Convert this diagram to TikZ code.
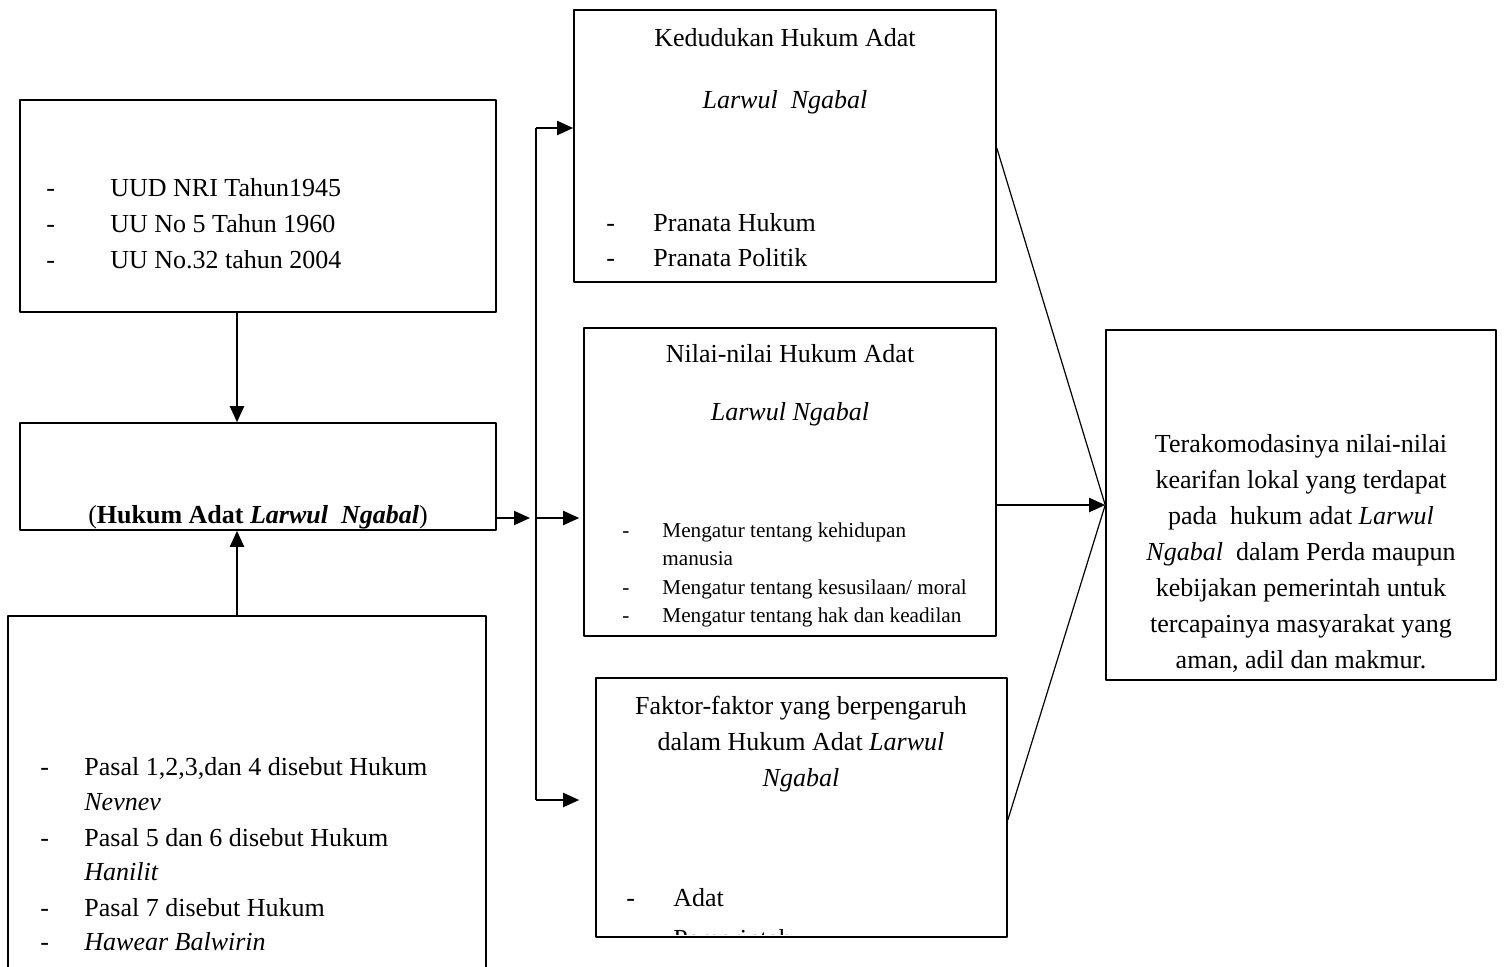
\documentclass[tikz,border=0pt]{standalone}
\usepackage{fontspec}
\setmainfont{Liberation Serif}
\usetikzlibrary{arrows.meta}
\tikzset{
  box/.style={draw, line width=0.8pt, inner sep=0pt},
  arr/.style={line width=1pt, -{Triangle[length=8pt,width=7pt]}},
  link/.style={line width=0.6pt},
  item/.style={anchor=base west, inner sep=0pt},
  mid/.style={anchor=base, inner sep=0pt},
  small/.style={font=\fontsize{10.6}{14}\selectfont},
}
\begin{document}
\begin{tikzpicture}[x=0.5pt, y=-0.5pt, font=\fontsize{13}{18}\selectfont, line join=round]
  \useasboundingbox (0,0) rectangle (1504,966);
  % kotak kiri
  \node[box, minimum width=238pt, minimum height=106pt] (dasar) at (258,206) {};
  \node[box, minimum width=238pt, minimum height=53.5pt] (adat) at (258,476.5) {};
  \node[box, minimum width=239pt, minimum height=180pt] (pasal) at (247,796) {};
  % kotak tengah
  \node[box, minimum width=211pt, minimum height=136pt] (kedudukan) at (785,146) {};
  \node[box, minimum width=206pt, minimum height=154pt] (nilai) at (790,482) {};
  \node[box, minimum width=205.5pt, minimum height=129.5pt] (faktor) at (801.5,807.5) {};
  % kotak kanan
  \node[box, minimum width=195pt, minimum height=175pt] (hasil) at (1301,505) {};

  % dasar hukum
  \foreach \y/\t [count=\i] in {196/UUD NRI Tahun1945, 232/UU No 5 Tahun 1960, 268/UU No.32 tahun 2004}{
    \node[item] (strip-a\i) at (46,\y) {-};
    \node[item] (uu-\i) at (110,\y) {\t};
  }
  \node[mid] (judul) at (258,523) {(\textbf{Hukum Adat \textit{Larwul~ Ngabal}})};

  % pasal-pasal
  \node[item] (strip-c1) at (40,775) {-};
  \node[item] (pasal-1) at (84,775) {Pasal 1,2,3,dan 4 disebut Hukum};
  \node[item] (nevnev) at (84,810) {\textit{Nevnev}};
  \node[item] (strip-c2) at (40,846) {-};
  \node[item] (pasal-2) at (84,846) {Pasal 5 dan 6 disebut Hukum};
  \node[item] (hanilit) at (84,880) {\textit{Hanilit}};
  \node[item] (strip-c3) at (40,916) {-};
  \node[item] (pasal-3) at (84,916) {Pasal 7 disebut Hukum};
  \node[item] (strip-c4) at (40,950) {-};
  \node[item] (hawear) at (84,950) {\textit{Hawear Balwirin}};

  % kedudukan
  \node[mid] (judul-d) at (785,46) {Kedudukan Hukum Adat};
  \node[mid] (nama-d) at (785,108) {\textit{Larwul~ Ngabal}};
  \foreach \y/\t [count=\i] in {231/Pranata Hukum, 266/Pranata Politik}{
    \node[item] (strip-d\i) at (606,\y) {-};
    \node[item] (pranata-\i) at (653,\y) {\t};
  }

  % nilai-nilai
  \node[mid] (judul-e) at (790,362) {Nilai-nilai Hukum Adat};
  \node[mid] (nama-e) at (790,420) {\textit{Larwul Ngabal}};
  \node[item, small] (strip-e1) at (622,537) {-};
  \node[item, small] (atur-1) at (662,537) {Mengatur tentang kehidupan};
  \node[item, small] (manusia) at (662,565) {manusia};
  \node[item, small] (strip-e2) at (622,594) {-};
  \node[item, small] (atur-2) at (662,594) {Mengatur tentang kesusilaan/ moral};
  \node[item, small] (strip-e3) at (622,622) {-};
  \node[item, small] (atur-3) at (662,622) {Mengatur tentang hak dan keadilan};

  % faktor
  \node[align=center, inner sep=0pt] (judul-f) at (801,744)
    {Faktor-faktor yang berpengaruh\\dalam Hukum Adat \textit{Larwul}\\\textit{Ngabal}};
  \node[item] (strip-f1) at (626,906) {-};
  \node[item] (faktor-1) at (673,906) {Adat};
  \begin{scope}
    \clip (596,678) rectangle (1007,934);
    \node[item] (faktor-2) at (673,947) {Pemerintah};
  \end{scope}

  % hasil
  \node[align=center, inner sep=0pt] (isi-g) at (1301,553)
    {Terakomodasinya nilai-nilai\\kearifan lokal yang terdapat\\pada~ hukum adat \textit{Larwul}\\
     \textit{Ngabal}~ dalam Perda maupun\\kebijakan pemerintah untuk\\tercapainya masyarakat yang\\aman, adil dan makmur.};

  % panah
  \coordinate (cabang) at (536,518);
  \coordinate (atas) at (536,128);
  \coordinate (bawah) at (536,800);
  \draw[arr] ([xshift=-10.5pt]dasar.south) -- ([xshift=-10.5pt]adat.north);
  \draw[arr] ([xshift=-5pt]pasal.north) -- ([xshift=-10.5pt]adat.south);
  \draw[arr] ([yshift=-20.75pt]adat.east) -- ([xshift=-3pt]cabang);
  \draw[line width=1pt] (atas) -- (bawah);
  \draw[arr] (atas) -- (kedudukan.west |- atas);
  \draw[arr] (cabang) -- ([xshift=-2pt]nilai.west |- cabang);
  \draw[arr] (bawah) -- ([xshift=-8pt]faktor.west |- bawah);
  \draw[link] ([yshift=-1pt]kedudukan.east) -- (hasil.west);
  \draw[arr] (nilai.east |- hasil.west) -- (hasil.west);
  \draw[link] ([yshift=-6.25pt]faktor.east) -- (hasil.west);
\end{tikzpicture}
\end{document}
